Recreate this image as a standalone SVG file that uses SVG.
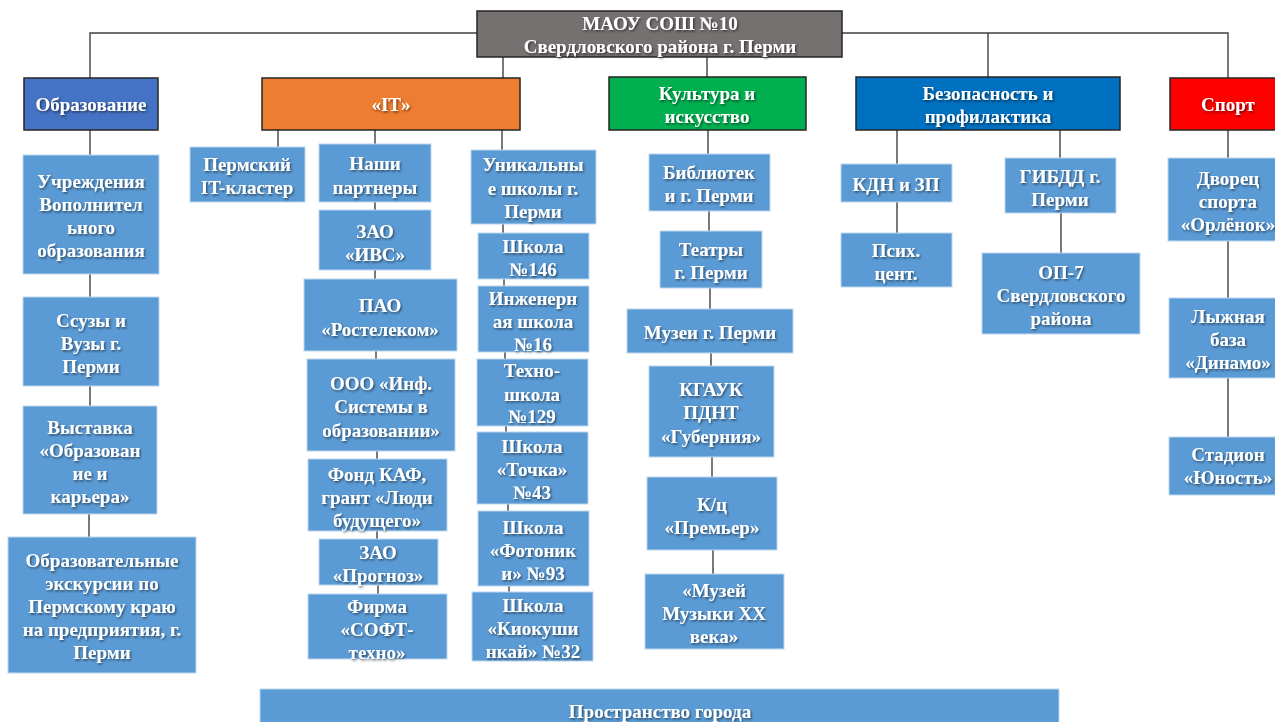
<svg xmlns="http://www.w3.org/2000/svg" width="1275" height="722" viewBox="0 0 1275 722">
<defs>
<filter id="sh" x="-10%" y="-30%" width="130%" height="170%">
<feDropShadow dx="1.2" dy="1.5" stdDeviation="0.9" flood-color="#000" flood-opacity="0.55"/>
</filter>
</defs>
<style>
text{font-family:"Liberation Serif","Times New Roman",serif;font-weight:bold;font-size:19px;fill:#fff;text-anchor:middle;filter:url(#sh)}
.hd{stroke:#262626;stroke-width:1.5}
.sb{fill:#5B9BD5;stroke:#BDD7EE;stroke-width:1}
.cn line, .cn polyline{stroke:#404040;stroke-width:1.4;fill:none}
</style>
<rect width="1275" height="722" fill="#fff"/>
<g class="cn">
<polyline points="90,78 90,33 477,33"/>
<polyline points="842,33 1228,33 1228,78"/>
<line x1="988" y1="33" x2="988" y2="77"/>
<line x1="503" y1="57" x2="503" y2="78"/>
<line x1="707" y1="57" x2="707" y2="77"/>
<line x1="90" y1="130" x2="90" y2="155"/>
<line x1="90" y1="274" x2="90" y2="297"/>
<line x1="90" y1="386" x2="90" y2="406"/>
<line x1="89" y1="514" x2="89" y2="537"/>
<line x1="278" y1="130" x2="278" y2="147"/>
<line x1="375" y1="130" x2="375" y2="144"/>
<line x1="502" y1="130" x2="502" y2="150"/>
<line x1="375" y1="202" x2="375" y2="210"/>
<line x1="375" y1="270" x2="375" y2="279"/>
<line x1="376" y1="351" x2="376" y2="359"/>
<line x1="377" y1="451" x2="377" y2="459"/>
<line x1="377" y1="531" x2="377" y2="539"/>
<line x1="378" y1="585" x2="378" y2="594"/>
<line x1="503" y1="224" x2="503" y2="233"/>
<line x1="504" y1="279" x2="504" y2="286"/>
<line x1="505" y1="352" x2="505" y2="359"/>
<line x1="506" y1="426" x2="506" y2="432"/>
<line x1="508" y1="504" x2="508" y2="511"/>
<line x1="509" y1="586" x2="509" y2="592"/>
<line x1="708" y1="130" x2="708" y2="154"/>
<line x1="709" y1="211" x2="709" y2="231"/>
<line x1="710" y1="288" x2="710" y2="309"/>
<line x1="711" y1="353" x2="711" y2="366"/>
<line x1="712" y1="457" x2="712" y2="477"/>
<line x1="713" y1="550" x2="713" y2="574"/>
<line x1="897" y1="130" x2="897" y2="164"/>
<line x1="1060" y1="130" x2="1060" y2="158"/>
<line x1="897" y1="202" x2="897" y2="233"/>
<line x1="1061" y1="213" x2="1061" y2="253"/>
<line x1="1228" y1="130" x2="1228" y2="158"/>
<line x1="1228" y1="241" x2="1228" y2="298"/>
<line x1="1228" y1="378" x2="1228" y2="437"/>
</g>
<g id="root"><rect class="hd" x="477" y="11" width="365" height="46" fill="#767171"/><text x="660" y="30">МАОУ СОШ №10</text><text x="660" y="53">Свердловского района г. Перми</text></g>
<g id="edu"><rect class="hd" x="24" y="78" width="134" height="52" fill="#4472C4"/><text x="91" y="111">Образование</text></g>
<g id="it"><rect class="hd" x="262" y="78" width="258" height="52" fill="#ED7D31"/><text x="391" y="111">«IT»</text></g>
<g id="cult"><rect class="hd" x="609" y="77" width="197" height="53" fill="#00B050"/><text x="707" y="100">Культура и</text><text x="707" y="123">искусство</text></g>
<g id="safe"><rect class="hd" x="856" y="77" width="264" height="53" fill="#0070C0"/><text x="988" y="100">Безопасность и</text><text x="988" y="123">профилактика</text></g>
<g id="sport"><rect class="hd" x="1170" y="78" width="120" height="52" fill="#FF0000"/><text x="1228" y="111">Спорт</text></g>
<g id="e1"><rect class="sb" x="23" y="155" width="136" height="119"/><text x="91" y="188">Учреждения</text><text x="91" y="211">Вополнител</text><text x="91" y="234">ьного</text><text x="91" y="257">образования</text></g>
<g id="e2"><rect class="sb" x="23" y="297" width="136" height="89"/><text x="91" y="327">Ссузы и</text><text x="91" y="350">Вузы г.</text><text x="91" y="373">Перми</text></g>
<g id="e3"><rect class="sb" x="23" y="406" width="134" height="108"/><text x="90" y="434">Выставка</text><text x="90" y="457">«Образован</text><text x="90" y="480">ие и</text><text x="90" y="503">карьера»</text></g>
<g id="e4"><rect class="sb" x="8" y="537" width="188" height="136"/><text x="102" y="567">Образовательные</text><text x="102" y="590">экскурсии по</text><text x="102" y="613">Пермскому краю</text><text x="102" y="636">на предприятия, г.</text><text x="102" y="659">Перми</text></g>
<g id="i1"><rect class="sb" x="190" y="147" width="115" height="55"/><text x="247" y="171">Пермский</text><text x="247" y="194">IT-кластер</text></g>
<g id="i2"><rect class="sb" x="319" y="144" width="112" height="58"/><text x="375" y="170">Наши</text><text x="375" y="194">партнеры</text></g>
<g id="i3"><rect class="sb" x="319" y="210" width="112" height="60"/><text x="375" y="238">ЗАО</text><text x="375" y="261">«ИВС»</text></g>
<g id="i4"><rect class="sb" x="304" y="279" width="153" height="72"/><text x="380" y="312">ПАО</text><text x="380" y="336">«Ростелеком»</text></g>
<g id="i5"><rect class="sb" x="307" y="359" width="148" height="92"/><text x="381" y="390">ООО «Инф.</text><text x="381" y="413">Системы в</text><text x="381" y="437">образовании»</text></g>
<g id="i6"><rect class="sb" x="308" y="459" width="139" height="72"/><text x="377" y="481">Фонд КАФ,</text><text x="377" y="504">грант «Люди</text><text x="377" y="527">будущего»</text></g>
<g id="i7"><rect class="sb" x="319" y="539" width="119" height="46"/><text x="378" y="559">ЗАО</text><text x="378" y="582">«Прогноз»</text></g>
<g id="i8"><rect class="sb" x="308" y="594" width="139" height="65"/><text x="377" y="613">Фирма</text><text x="377" y="636">«СОФТ-</text><text x="377" y="659">техно»</text></g>
<g id="u0"><rect class="sb" x="471" y="150" width="125" height="74"/><text x="533" y="171">Уникальны</text><text x="533" y="195">е школы г.</text><text x="533" y="218">Перми</text></g>
<g id="u1"><rect class="sb" x="478" y="233" width="111" height="46"/><text x="533" y="253">Школа</text><text x="533" y="276">№146</text></g>
<g id="u2"><rect class="sb" x="478" y="286" width="111" height="66"/><text x="533" y="305">Инженерн</text><text x="533" y="328">ая школа</text><text x="533" y="351">№16</text></g>
<g id="u3"><rect class="sb" x="477" y="359" width="111" height="67"/><text x="532" y="377">Техно-</text><text x="532" y="401">школа</text><text x="532" y="423">№129</text></g>
<g id="u4"><rect class="sb" x="477" y="432" width="111" height="72"/><text x="532" y="453">Школа</text><text x="532" y="476">«Точка»</text><text x="532" y="499">№43</text></g>
<g id="u5"><rect class="sb" x="478" y="511" width="111" height="75"/><text x="533" y="534">Школа</text><text x="533" y="557">«Фотоник</text><text x="533" y="580">и» №93</text></g>
<g id="u6"><rect class="sb" x="472" y="592" width="121" height="69"/><text x="533" y="612">Школа</text><text x="533" y="635">«Киокуши</text><text x="533" y="658">нкай» №32</text></g>
<g id="c1"><rect class="sb" x="649" y="154" width="121" height="57"/><text x="709" y="179">Библиотек</text><text x="709" y="202">и г. Перми</text></g>
<g id="c2"><rect class="sb" x="660" y="231" width="102" height="57"/><text x="711" y="256">Театры</text><text x="711" y="279">г. Перми</text></g>
<g id="c3"><rect class="sb" x="627" y="309" width="166" height="44"/><text x="710" y="339">Музеи г. Перми</text></g>
<g id="c4"><rect class="sb" x="649" y="366" width="125" height="91"/><text x="711" y="396">КГАУК</text><text x="711" y="419">ПДНТ</text><text x="711" y="443">«Губерния»</text></g>
<g id="c5"><rect class="sb" x="647" y="477" width="130" height="73"/><text x="712" y="511">К/ц</text><text x="712" y="534">«Премьер»</text></g>
<g id="c6"><rect class="sb" x="645" y="574" width="139" height="75"/><text x="714" y="597">«Музей</text><text x="714" y="620">Музыки XX</text><text x="714" y="643">века»</text></g>
<g id="s1"><rect class="sb" x="841" y="164" width="111" height="38"/><text x="896" y="191">КДН и ЗП</text></g>
<g id="s2"><rect class="sb" x="841" y="233" width="111" height="54"/><text x="896" y="257">Псих.</text><text x="896" y="280">цент.</text></g>
<g id="s3"><rect class="sb" x="1005" y="158" width="111" height="55"/><text x="1060" y="183">ГИБДД г.</text><text x="1060" y="206">Перми</text></g>
<g id="s4"><rect class="sb" x="982" y="253" width="158" height="81"/><text x="1061" y="279">ОП-7</text><text x="1061" y="302">Свердловского</text><text x="1061" y="325">района</text></g>
<g id="p1"><rect class="sb" x="1168" y="158" width="120" height="83"/><text x="1228" y="185">Дворец</text><text x="1228" y="208">спорта</text><text x="1228" y="231">«Орлёнок»</text></g>
<g id="p2"><rect class="sb" x="1169" y="298" width="120" height="80"/><text x="1228" y="323">Лыжная</text><text x="1228" y="346">база</text><text x="1228" y="369">«Динамо»</text></g>
<g id="p3"><rect class="sb" x="1169" y="437" width="120" height="58"/><text x="1228" y="461">Стадион</text><text x="1228" y="484">«Юность»</text></g>
<g id="city"><rect class="sb" x="260" y="689" width="799" height="45"/><text x="660" y="718">Пространство города</text></g>
</svg>
